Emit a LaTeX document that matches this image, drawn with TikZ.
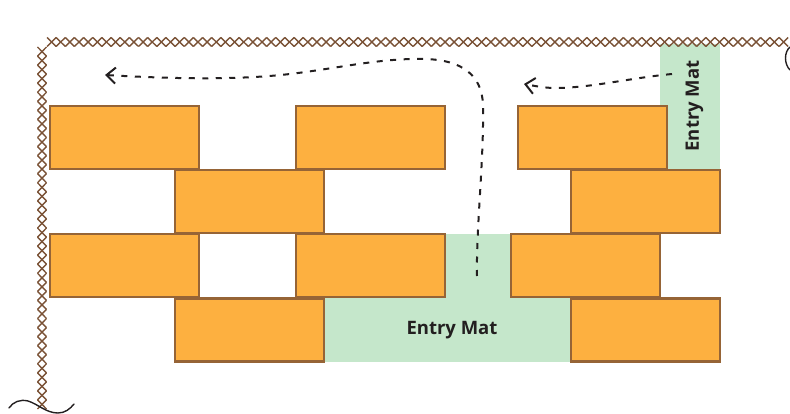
\documentclass[tikz,border=0pt]{standalone}
\usepackage{fontspec}
\setmainfont{Open Sans}
\usetikzlibrary{arrows.meta}
\definecolor{brick}{HTML}{FDB040}
\definecolor{brickline}{HTML}{966436}
\definecolor{mat}{HTML}{C5E7CB}
\definecolor{stitch}{HTML}{7A5236}
\definecolor{ink}{HTML}{231F20}
\tikzset{
  brickbox/.style={draw=brickline,fill=brick,line width=2.2pt,minimum width=149pt,minimum height=63pt,inner sep=0pt,outer sep=0pt},
  matfill/.style={fill=mat,draw=none},
  matlabel/.style={font=\fontsize{18.5}{22}\selectfont\bfseries,text=ink,inner sep=0pt},
  walkpath/.style={draw=ink,line width=2pt,dash pattern=on 6pt off 7.5pt,-{Straight Barb[length=9pt,width=16pt,line width=2pt]}},
  stitchline/.style={draw=stitch,line width=1.4pt},
  edgewave/.style={draw=ink,line width=1.4pt,line cap=round}
}
\begin{document}
\begin{tikzpicture}[x=1pt,y=-1pt]
\useasboundingbox (0,0) rectangle (790,414);
% mats
\fill[matfill] (660,44) rectangle (720,170);
\fill[matfill] (445,234) rectangle (511,298);
\fill[matfill] (324,298) rectangle (571,362);
% stitched edges
\foreach \i in {0,...,80}{
  \pgfmathsetmacro{\xa}{47+9.15*\i}
  \pgfmathsetmacro{\xb}{\xa+9.15}
  \draw[stitchline] (\xa,37.5) -- (\xb,46.5);
  \draw[stitchline] (\xa,46.5) -- (\xb,37.5);
}
\foreach \i in {0,...,39}{
  \pgfmathsetmacro{\ya}{47+9.05*\i}
  \pgfmathsetmacro{\yb}{\ya+9.05}
  \draw[stitchline] (37.5,\ya) -- (46.5,\yb);
  \draw[stitchline] (46.5,\ya) -- (37.5,\yb);
}
% bricks
\node[brickbox] (a) at (124.5,137.5) {};
\node[brickbox] (b) at (370.5,137.5) {};
\node[brickbox] (c) at (592.5,137.5) {};
\node[brickbox] (d) at (249.5,201.5) {};
\node[brickbox] (e) at (645.5,201.5) {};
\node[brickbox] (f) at (124.5,265.5) {};
\node[brickbox] (g) at (370.5,265.5) {};
\node[brickbox] (h) at (585.5,265.5) {};
\node[brickbox] (i) at (249.5,330) {};
\node[brickbox] (j) at (645.5,330) {};
% labels
\node[matlabel] (m1) at (452,330.5) {Entry Mat};
\node[matlabel,rotate=90] (m2) at (694.5,106) {Entry Mat};
% paths
\coordinate (s1) at (477,276);
\coordinate (t1) at (105,75);
\coordinate (s2) at (672,74);
\coordinate (t2) at (524,84);
\draw[walkpath] (s1) .. controls (476,230) and (484,160) .. (483,105)
  .. controls (482,75) and (462,60) .. (425,59)
  .. controls (380,58) and (340,68) .. (290,74)
  .. controls (230,81) and (160,78) .. (t1);
\draw[walkpath] (s2) .. controls (630,78) and (590,88) .. (555,88)
  .. controls (545,88) and (535,86) .. (t2);
% edge waves
\coordinate (w1) at (9,408);
\coordinate (w2) at (74,404);
\draw[edgewave] (w1) .. controls (13,402) and (20,399) .. (28,401)
  .. controls (38,404) and (46,413) .. (58,413) .. controls (65,413) and (70,409) .. (w2);
\coordinate (w3) at (790,47);
\coordinate (w4) at (790,70);
\draw[edgewave] (w3) .. controls (784,52) and (784,64) .. (w4);
\end{tikzpicture}
\end{document}
